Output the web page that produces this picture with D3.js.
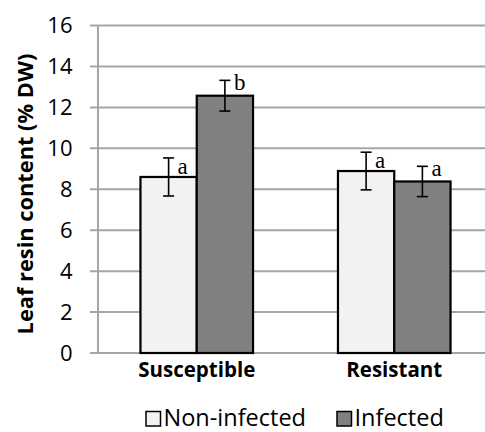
<!DOCTYPE html>
<html><head><meta charset="utf-8">
<script src="https://cdn.jsdelivr.net/npm/d3@7"></script>
<style>body{margin:0;background:#fff}svg{display:block}</style>
</head><body>
<svg id="c" width="485" height="432"></svg>
<script>
const categories = ["Susceptible", "Resistant"];
const seriesNames = ["Non-infected", "Infected"];
const nonInfected = [8.6, 8.89];
const infected = [12.57, 8.38];
const nonInfectedErr = [0.93, 0.92];
const infectedErr = [0.75, 0.74];
const nonInfectedLetters = ["a", "a"];
const infectedLetters = ["b", "a"];
const yTicks = [0, 2, 4, 6, 8, 10, 12, 14, 16];
const colors = ["#f2f2f2", "#808080"];

const series = [
  {name: seriesNames[0], values: nonInfected, errs: nonInfectedErr, letters: nonInfectedLetters, color: colors[0], letterDy: 16},
  {name: seriesNames[1], values: infected, errs: infectedErr, letters: infectedLetters, color: colors[1], letterDy: 9.5}
];

const FONT = "'Open Sans', sans-serif";
const svg = d3.select("#c");
const y = d3.scaleLinear().domain([0, 16]).range([353, 25.5]);
const x0 = d3.scaleBand().domain(categories).range([98, 493]).paddingInner(0).paddingOuter(0);
const groupW = x0.bandwidth() * 0.57;
const x1 = d3.scaleBand().domain(seriesNames).range([-groupW / 2, groupW / 2]);

// gridlines
svg.append("g").selectAll("line").data(yTicks).join("line")
  .attr("x1", 90).attr("x2", 485)
  .attr("y1", d => y(d)).attr("y2", d => y(d))
  .attr("stroke", "#a6a6a6").attr("stroke-width", 2);
// y axis line
svg.append("line").attr("x1", 98).attr("x2", 98).attr("y1", y(16)).attr("y2", y(0))
  .attr("stroke", "#a6a6a6").attr("stroke-width", 2);
// tick labels
svg.append("g").selectAll("text").data(yTicks).join("text")
  .attr("x", 72.5).attr("y", d => y(d)).attr("dy", "0.36em")
  .attr("text-anchor", "end")
  .attr("font-family", FONT).attr("font-size", 22).attr("fill", "#000")
  .text(d => d);

// bars
series.forEach(s => {
  categories.forEach((c, i) => {
    const cx = x0(c) + x0.bandwidth() / 2 + x1(s.name);
    svg.append("rect")
      .attr("x", cx).attr("width", x1.bandwidth())
      .attr("y", y(s.values[i])).attr("height", y(0) - y(s.values[i]))
      .attr("fill", s.color).attr("stroke", "#000").attr("stroke-width", 2.2);
  });
});

// error bars and letters
series.forEach(s => {
  categories.forEach((c, i) => {
    const mx = x0(c) + x0.bandwidth() / 2 + x1(s.name) + x1.bandwidth() / 2;
    const hi = y(s.values[i] + s.errs[i]), lo = y(s.values[i] - s.errs[i]);
    const g = svg.append("g").attr("stroke", "#000").attr("stroke-width", 1.6);
    g.append("line").attr("x1", mx).attr("x2", mx).attr("y1", hi).attr("y2", lo);
    g.append("line").attr("x1", mx - 5.5).attr("x2", mx + 5.5).attr("y1", hi).attr("y2", hi);
    g.append("line").attr("x1", mx - 5.5).attr("x2", mx + 5.5).attr("y1", lo).attr("y2", lo);
    svg.append("text").attr("x", mx + 9).attr("y", hi + s.letterDy)
      .attr("font-family", "'Liberation Serif', 'Times New Roman', serif").attr("font-size", 23)
      .text(s.letters[i]);
  });
});

// x labels
svg.append("g").selectAll("text").data(categories).join("text")
  .attr("x", d => x0(d) + x0.bandwidth() / 2).attr("y", 377)
  .attr("text-anchor", "middle")
  .attr("font-family", FONT).attr("font-weight", "bold").attr("font-size", 20.5)
  .text(d => d);

// y label
svg.append("text").attr("transform", "translate(33,194) rotate(-90)")
  .attr("text-anchor", "middle")
  .attr("font-family", FONT).attr("font-weight", "bold").attr("font-size", 21.8)
  .text("Leaf resin content (% DW)");

// legend
const legX = [146, 337];
series.forEach((s, i) => {
  svg.append("rect").attr("x", legX[i]).attr("y", 411.5).attr("width", 14.5).attr("height", 14.5)
    .attr("fill", s.color).attr("stroke", "#000").attr("stroke-width", 1.5);
  svg.append("text").attr("x", legX[i] + 17.5).attr("y", 425.5)
    .attr("font-family", FONT).attr("font-size", 23.5)
    .text(s.name);
});
</script>
</body></html>
